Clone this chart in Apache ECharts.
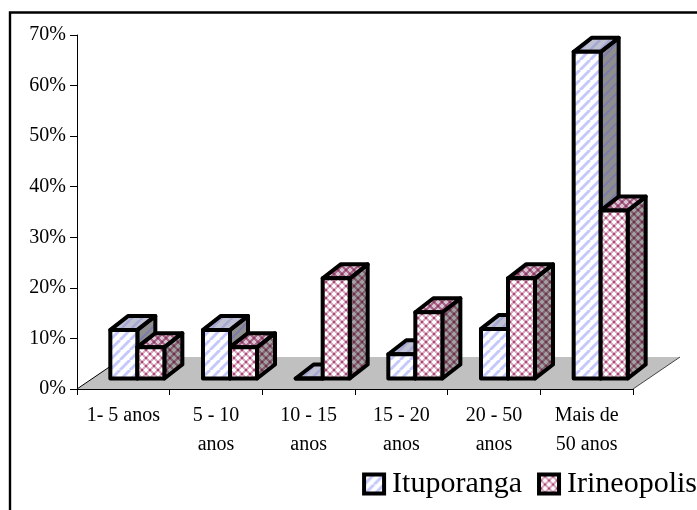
<!DOCTYPE html>
<html><head><meta charset="utf-8">
<style>html,body{margin:0;padding:0;background:#fff}#c{width:697px;height:510px}</style>
<script src="https://cdn.jsdelivr.net/npm/echarts@6/dist/echarts.min.js"></script>
</head><body><div id="c"></div>
<script>
const categories = ['1- 5 anos','5 - 10\nanos','10 - 15\nanos','15 - 20\nanos','20 - 50\nanos','Mais de\n50 anos'];
const ituporanga = [9.6, 9.6, 0, 4.8, 9.8, 64.6];
const irineopolis = [6.2, 6.2, 19.8, 13.1, 19.8, 33.2];
const yTicksMax = 70, yTickStep = 10;
const FONT = '"Liberation Serif","Times New Roman",serif';

function tile(size, draw){
  const c = document.createElement('canvas'); c.width = c.height = size;
  draw(c.getContext('2d'), size);
  return {image:c, repeat:'repeat'};
}
function stripes(bg, fg, lw){
  return tile(10,(g,s)=>{
    g.fillStyle=bg; g.fillRect(0,0,s,s);
    g.strokeStyle=fg; g.lineWidth=lw;
    for(let i=-s;i<=2*s;i+=s){ g.beginPath(); g.moveTo(i,s); g.lineTo(i+s,0); g.stroke(); }
  });
}
function lattice(bg, cross, dot){
  return tile(8,(g,s)=>{
    g.fillStyle=bg; g.fillRect(0,0,s,s);
    g.fillStyle=cross;
    [[2,2],[6,6]].forEach(([x,y])=>{
      g.fillRect(x-1,y-2,2,4); g.fillRect(x-2,y-1,4,2);
    });
    g.fillStyle=dot;
    [[6,2],[2,6]].forEach(([x,y])=>{
      g.fillRect(x-1,y-1,2,2);
    });
  });
}
const itu = {front:stripes('#ffffff','#c4c8fa',3), side:stripes('#8e8e8e','#7c7cac',2), top:stripes('#c0c2d4','#a4a8d2',2.6)};
const iri = {front:lattice('#dba8c0','#ffffff','#a84a78'), side:lattice('#83606f','#a0a0a0','#702f4c'), top:lattice('#a8678a','#d8c4ce','#8a3c62')};

const DEPTH_X = 18, DEPTH_Y = 14, OFF_X = 14, OFF_Y = 10.5, BAR = 0.2915;
function barItem(faces, slot){
  return (params, api) => {
    const cat = api.value(0), v = api.value(1);
    const base = api.coord([cat, 0]), top = api.coord([cat, v]);
    const w = api.size([1,0])[0] * BAR;
    const x0 = base[0] + OFF_X + (slot-1)*w, x1 = x0 + w;
    const yb = base[1] - OFF_Y, yt = top[1] - OFF_Y;
    const s = {stroke:'#000', lineWidth:4, lineJoin:'round'};
    const poly = (pts, fill) => ({type:'polygon', shape:{points:pts}, style:Object.assign({fill}, s)});
    return {type:'group', children:[
      poly([[x1,yb],[x1+DEPTH_X,yb-DEPTH_Y],[x1+DEPTH_X,yt-DEPTH_Y],[x1,yt]], faces.side),
      poly([[x0,yt],[x1,yt],[x1+DEPTH_X,yt-DEPTH_Y],[x0+DEPTH_X,yt-DEPTH_Y]], faces.top),
      poly([[x0,yb],[x1,yb],[x1,yt],[x0,yt]], faces.front)
    ]};
  };
}
function floorItem(params, api){
  const g = params.coordSys, y = api.coord([0,0])[1];
  const xl = g.x, xr = g.x + g.width, dx = 47, dy = 32;
  return {type:'group', children:[
    {type:'polygon', shape:{points:[[xl,y],[xr,y],[xr+dx,y-dy],[xl+dx,y-dy]]}, style:{fill:'#c0c0c0', stroke:null}},
    {type:'polyline', shape:{points:[[xl,y],[xl+dx,y-dy]]}, style:{stroke:'#000', lineWidth:1, fill:null}},
    {type:'polyline', shape:{points:[[xr,y],[xr+dx,y-dy]]}, style:{stroke:'#444', lineWidth:1, fill:null}}
  ]};
}
const axisStyle = {lineStyle:{color:'#000', width:1}};
const chart = echarts.init(document.getElementById('c'), null, {renderer:'canvas'});
chart.setOption({
  animation:false,
  backgroundColor:'#fff',
  textStyle:{fontFamily:FONT},
  grid:{left:77, right:64, top:35, bottom:121, containLabel:false},
  xAxis:{type:'category', data:categories, axisLine:Object.assign({onZero:false},axisStyle), axisTick:{show:true, alignWithLabel:false, length:6, lineStyle:{color:'#000'}},
    axisLabel:{color:'#000', fontFamily:FONT, fontSize:20, lineHeight:29, margin:12, interval:0}, splitLine:{show:false}, z:5},
  yAxis:{type:'value', min:0, max:yTicksMax, interval:yTickStep, axisLine:Object.assign({show:true},axisStyle), axisTick:{show:true, length:7, lineStyle:{color:'#000'}},
    axisLabel:{color:'#000', fontFamily:FONT, fontSize:20, margin:11, formatter:'{value}%'}, splitLine:{show:false}},
  legend:{show:true, right:0, top:469, padding:0, itemWidth:20, itemHeight:19, itemGap:15, icon:'rect',
    textStyle:{fontFamily:FONT, fontSize:30, color:'#000', padding:[0,0,0,3]}, selectedMode:false,
    data:[{name:'Ituporanga', itemStyle:{color:itu.front, borderColor:'#000', borderWidth:4}},
          {name:'Irineopolis', itemStyle:{color:iri.front, borderColor:'#000', borderWidth:4}}]},
  graphic:[
    {type:'polyline', silent:true, shape:{points:[[10,510],[10,12.5],[697,12.5]]}, style:{stroke:'#000', lineWidth:2.4, fill:null}}
  ],
  series:[
    {type:'custom', name:'floor', renderItem:floorItem, data:[[0,0]], z:1, silent:true, clip:false, encode:{x:0,y:1}},
    {type:'custom', name:'Ituporanga', renderItem:barItem(itu,0), data:ituporanga.map((v,i)=>[i,v]), z:2, clip:false, encode:{x:0,y:1}, itemStyle:{color:'#ccf'}},
    {type:'custom', name:'Irineopolis', renderItem:barItem(iri,1), data:irineopolis.map((v,i)=>[i,v]), z:3, clip:false, encode:{x:0,y:1}, itemStyle:{color:'#a57'}}
  ]
});
</script></body></html>
